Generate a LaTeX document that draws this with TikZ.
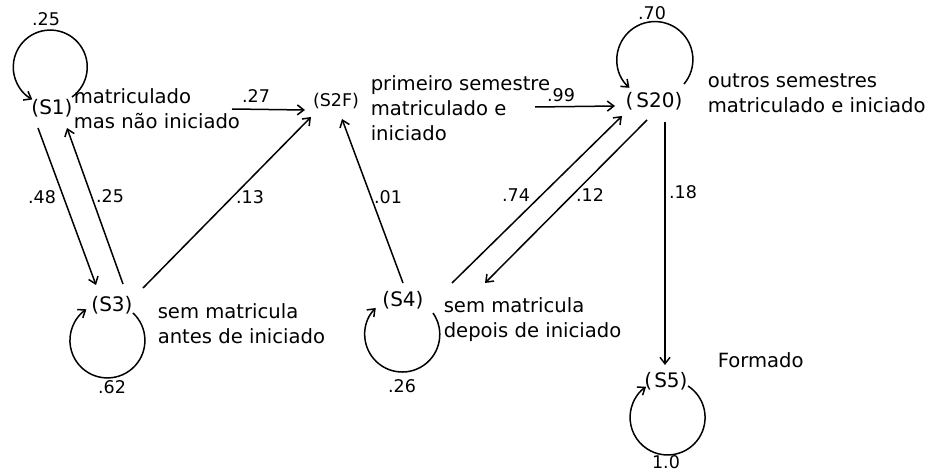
\documentclass[tikz,border=0pt]{standalone}
\usepackage{fontspec}
\setmainfont{DejaVu Sans}
\usetikzlibrary{arrows.meta,calc}
\begin{document}
\begin{tikzpicture}[x=1pt,y=-1pt,line width=1.5pt,
  arr/.style={-{Straight Barb[length=6.5pt,width=10pt]}},
  st/.style={font=\fontsize{20}{22}\selectfont,inner sep=0pt},
  lab/.style={font=\fontsize{17.5}{19}\selectfont,inner sep=0pt},
  note/.style={font=\fontsize{19.6}{25}\selectfont,align=left,anchor=north west,inner sep=0pt}]
\useasboundingbox (0,0) rectangle (931,473);
% states
\node[st] (S1) at (52,108) {(S1)};
\node[st,font=\fontsize{17.5}{19}\selectfont] (S2F) at (336,101) {(S2F)};
\node[st] (S20) at (654,101) {(\kern3pt S20)};
\node[st] (S3) at (112,305) {(S3)};
\node[st] (S4) at (403,300) {(S4)};
\node[st] (S5) at (666,381) {(\kern2pt S5)};
% notes
\node[note] (n1) at (73,88) {matriculado\\mas não iniciado};
\node[note] (n2) at (370,75) {primeiro semestre\\matriculado e\\iniciado};
\node[note] (n3) at (707,73) {outros semestres\\matriculado e iniciado};
\node[note] (n4) at (157,303) {sem matricula\\antes de iniciado};
\node[note] (n5) at (443,297) {sem matricula\\depois de iniciado};
\node[note] (n6) at (717,352) {Formado};
% loops
\draw[arr] ($(S1)+(20,-11)$) arc[start angle=54,end angle=-241,radius=37];
\draw[arr] ($(S20)+(30,-17)$) arc[start angle=40,end angle=-228,radius=38];
\draw[arr] ($(S3)+(21,8)$) arc[start angle=-47,end angle=236,radius=37.5];
\draw[arr] ($(S4)+(30,13)$) arc[start angle=-35,end angle=225,radius=37.5];
\draw[arr] ($(S5)+(22,5)$) arc[start angle=-57,end angle=235,radius=37.5];
% transitions
\draw[arr] ($(S1)+(-14,20)$) -- ($(S3)+(-16,-20)$);
\draw[arr] ($(S3)+(11,-21)$) -- ($(S1)+(15,20)$);
\draw[arr] ($(S3)+(31,-17)$) -- ($(S2F)+(-25,16)$);
\draw[arr] ($(S4)+(0,-17)$) -- ($(S2F)+(6,18)$);
\draw[arr] ($(S4)+(49,-17)$) -- ($(S20)+(-32,15)$);
\draw[arr] ($(S20)+(-7,19)$) -- ($(S4)+(82,-17)$);
\draw[arr] ($(S20)+(11,21)$) -- ($(S5)+(-1,-16)$);
\draw[arr] ($(S1)+(180,1)$) -- ($(S2F)+(-31,9)$);
\draw[arr] ($(S2F)+(199,6)$) -- ($(S20)+(-39,5)$);
% probabilities
\node[lab] (p1) at (46,19) {.25};
\node[lab] (p2) at (256,96) {.27};
\node[lab] (p3) at (561,95) {.99};
\node[lab] (p4) at (652,13) {.70};
\node[lab] (p5) at (42,197) {.48};
\node[lab] (p6) at (110,196) {.25};
\node[lab] (p7) at (250,197) {.13};
\node[lab] (p8) at (388,197) {.01};
\node[lab] (p9) at (516,195) {.74};
\node[lab] (p10) at (590,195) {.12};
\node[lab] (p11) at (683,192) {.18};
\node[lab] (p12) at (112,387) {.62};
\node[lab] (p13) at (402,386) {.26};
\node[lab] (p14) at (666,462) {1.0};
\end{tikzpicture}
\end{document}
